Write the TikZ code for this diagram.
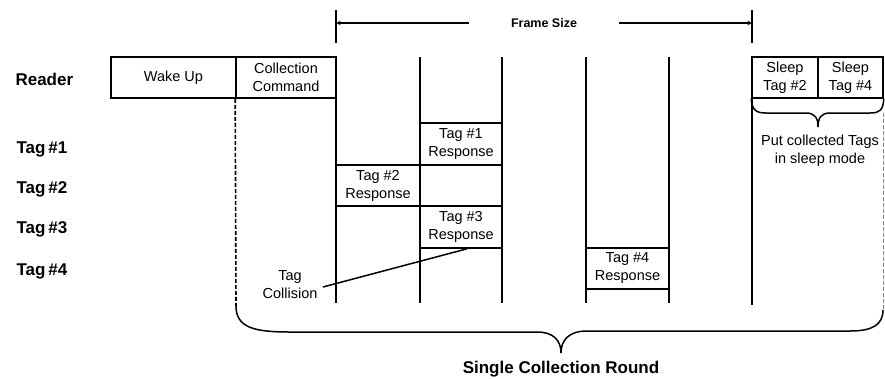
\documentclass[tikz,border=0pt]{standalone}
\usepackage{fontspec}
\setmainfont{Liberation Sans}
\begin{document}
\begin{tikzpicture}[x=1pt, y=-1pt, >=stealth,
    box/.style={draw, line width=1.6pt, align=center, inner sep=0pt,
        font=\fontsize{14.5}{18}\selectfont},
    slot/.style={line width=1.5pt},
    rowlabel/.style={anchor=base west, font=\fontsize{17}{20}\selectfont\bfseries},
    txt/.style={align=center, font=\fontsize{14.5}{18}\selectfont},
    brace/.style={line width=1.5pt},
    guide/.style={line width=1.6pt, dash pattern=on 4pt off 2pt}]
    \useasboundingbox (0,0) rectangle (885,378);

    % Row labels
    \node[rowlabel] (reader) at (12,85) {Reader};
    \node[rowlabel] (t1) at (13,153) {Tag\,\#1};
    \node[rowlabel] (t2) at (13,193) {Tag\,\#2};
    \node[rowlabel] (t3) at (13,233) {Tag\,\#3};
    \node[rowlabel] (t4) at (13,275) {Tag\,\#4};

    % Reader commands
    \node[box, minimum width=125pt, minimum height=41pt] (wake) at (173.5,77.5) {Wake Up};
    \node[box, minimum width=100pt, minimum height=41pt] (cmd) at (286,77.5) {Collection\\Command};
    \node[box, minimum width=66pt, minimum height=41pt] (sleep2) at (785,77.5) {Sleep\\Tag \#2};
    \node[box, minimum width=65pt, minimum height=41pt] (sleep4) at (850.5,77.5) {Sleep\\Tag \#4};

    % Frame size
    \coordinate (fl) at (336,23);
    \coordinate (fr) at (752,23);
    \node[font=\fontsize{12.5}{15}\selectfont\bfseries, inner xsep=42pt] (frame) at (544,23) {Frame Size};
    \draw[<-, line width=1.1pt] (fl) -- (frame.west);
    \draw[->, line width=1.1pt] (frame.east) -- (fr);
    \draw[slot] (336,10) -- (336,43);
    \draw[slot] (752,10) -- (752,43);

    % Slots
    \foreach \x in {336,420,502,586,669} {
        \draw[slot] (\x,57) -- (\x,303);
    }
    \draw[slot] (752,98) -- (752,305);

    % Tag responses
    \node[box, minimum width=82pt, minimum height=42pt] (r1) at (461,144) {Tag \#1\\Response};
    \node[box, minimum width=84pt, minimum height=41pt] (r2) at (378,185.5) {Tag \#2\\Response};
    \node[box, minimum width=82pt, minimum height=42pt] (r3) at (461,227) {Tag \#3\\Response};
    \node[box, minimum width=83pt, minimum height=41pt] (r4) at (627.5,268.5) {Tag \#4\\Response};

    % Collision
    \node[txt] (coll) at (290,285) {Tag\\Collision};
    \draw[line width=1.5pt] ([shift={(2,2)}]coll.east) -- ([xshift=6pt]r3.south);

    % Sleep brace
    \draw[brace] (sleep2.south west) .. controls (752,110) and (756,113) .. (766,113)
        -- (806,113) .. controls (815,113) and (818,118) .. (818,127)
        .. controls (818,118) and (821,113) .. (830,113)
        -- (870,113) .. controls (880,113) and (883,110) .. (sleep4.south east);
    \node[txt] (put) at (820,151) {Put collected Tags\\in sleep mode};

    % Collection round
    \coordinate (ra) at (236,306);
    \coordinate (rb) at (883,310);
    \draw[guide] (cmd.south west) -- (ra);
    \draw[guide, gray, line width=0.9pt] (883,113) -- (rb);
    \draw[brace] (ra) .. controls (236,328) and (255,332) .. (290,332)
        -- (537,332) .. controls (553,332) and (561,340) .. (561,353)
        .. controls (561,340) and (569,331) .. (587,331)
        -- (850,331) .. controls (872,331) and (883,325) .. (rb);
    \node[font=\fontsize{17}{20}\selectfont\bfseries] (round) at (561,369) {Single Collection Round};
\end{tikzpicture}
\end{document}
